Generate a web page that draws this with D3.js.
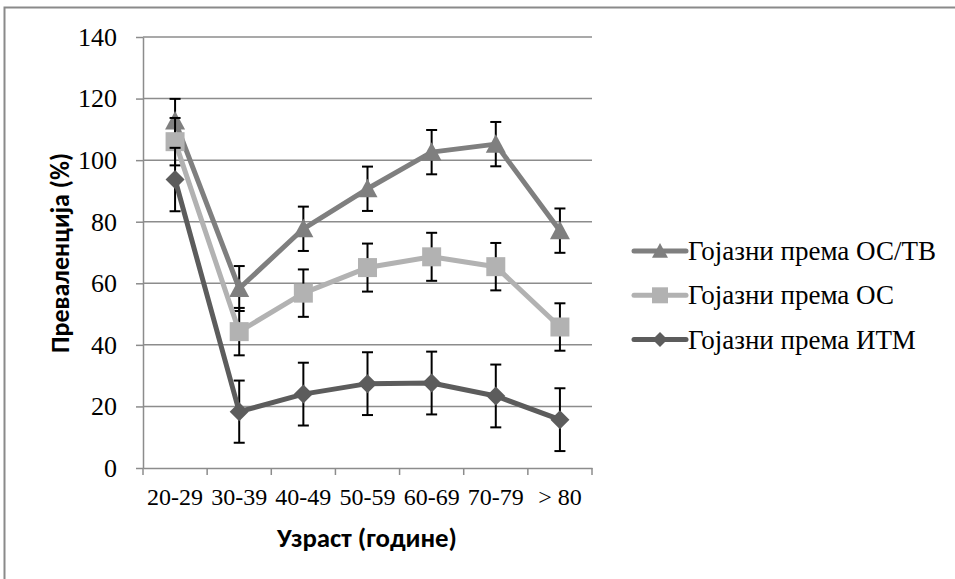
<!DOCTYPE html>
<html>
<head>
<meta charset="utf-8">
<script src="https://cdn.jsdelivr.net/npm/d3@7/dist/d3.min.js"></script>
<style>
  html, body { margin: 0; padding: 0; background: #fff; }
  svg { display: block; }
  .serif { font-family: "Liberation Serif", "Times New Roman", serif; }
  .title { font-family: Carlito, Calibri, "Open Sans", sans-serif; font-weight: bold; }
</style>
</head>
<body>
<script>
// Age groups and prevalence (%) with error-bar half widths, per obesity criterion
const categories = ["20-29", "30-39", "40-49", "50-59", "60-69", "70-79", "> 80"];
const yTicks = [0, 20, 40, 60, 80, 100, 120, 140];

const seriesNames = ["Гојазни према ОС/ТВ", "Гојазни према ОС", "Гојазни према ИТМ"];
const valuesOSTV = [112.7, 58.3, 77.7, 90.7, 102.6, 105.2, 77.1];
const errorsOSTV = [7.2, 7.3, 7.2, 7.2, 7.2, 7.2, 7.2];
const valuesOS   = [106.0, 44.3, 56.8, 65.1, 68.6, 65.4, 45.8];
const errorsOS   = [7.7, 7.7, 7.7, 7.8, 7.8, 7.7, 7.7];
const valuesITM  = [93.7, 18.3, 24.0, 27.4, 27.6, 23.4, 15.7];
const errorsITM  = [10.3, 10.1, 10.2, 10.2, 10.2, 10.2, 10.2];

const W = 955, H = 579;
const svg = d3.select("body").append("svg").attr("width", W).attr("height", H);

// chart area frame
svg.append("rect")
  .attr("x", 4.5).attr("y", 7.5).attr("width", W + 10).attr("height", H + 10)
  .attr("fill", "none").attr("stroke", "#8a8a8a").attr("stroke-width", 2);

const plot = { left: 143, right: 592, top: 37, bottom: 468 };

const x = d3.scaleBand().domain(categories).range([plot.left, plot.right]);
const y = d3.scaleLinear().domain([0, 140]).range([plot.bottom, plot.top]);

const gridColor = "#8c8c8c";

// horizontal gridlines
svg.append("g")
  .selectAll("line")
  .data(yTicks.filter(d => d > 0))
  .join("line")
  .attr("x1", plot.left).attr("x2", plot.right)
  .attr("y1", d => y(d)).attr("y2", d => y(d))
  .attr("stroke", gridColor).attr("stroke-width", 1.5);

// y axis
const yAxis = svg.append("g")
  .attr("transform", `translate(${plot.left},0)`)
  .call(d3.axisLeft(y).tickValues(yTicks).tickSize(7).tickPadding(19).tickSizeOuter(0))
  .attr("font-family", null).attr("font-size", null);
yAxis.select(".domain").attr("stroke", gridColor).attr("stroke-width", 1.5);
yAxis.selectAll(".tick line").attr("stroke", gridColor).attr("stroke-width", 1.5);
yAxis.selectAll(".tick text")
  .attr("class", "serif").style("font-size", "26px").attr("fill", "#000");

// x axis with tick marks at the category boundaries
const xAxis = svg.append("g")
  .attr("transform", `translate(0,${plot.bottom})`)
  .call(d3.axisBottom(x).tickSize(0).tickPadding(20).tickSizeOuter(0))
  .attr("font-family", null).attr("font-size", null);
xAxis.select(".domain").attr("stroke", gridColor).attr("stroke-width", 1.5);
xAxis.selectAll(".tick text")
  .attr("class", "serif").style("font-size", "24px").attr("fill", "#000");
const bounds = categories.map(c => x(c)).concat([x(categories[categories.length - 1]) + x.bandwidth()]);
xAxis.selectAll(".bound")
  .data(bounds)
  .join("line")
  .attr("class", "bound")
  .attr("x1", d => d).attr("x2", d => d)
  .attr("y1", 0).attr("y2", 7)
  .attr("stroke", gridColor).attr("stroke-width", 1.5);

// fit a bold title to a given width
function fitText(sel, width) {
  const len = sel.node().getComputedTextLength();
  const fs = parseFloat(sel.style("font-size"));
  sel.style("font-size", (fs * width / len).toFixed(2) + "px");
}

const yTitle = svg.append("text")
  .attr("class", "title")
  .attr("transform", `translate(60,253) rotate(-90)`)
  .attr("text-anchor", "middle").attr("dominant-baseline", "central")
  .style("font-size", "22px")
  .text("Преваленција (%)");
fitText(yTitle, 200);

const xTitle = svg.append("text")
  .attr("class", "title")
  .attr("x", 367).attr("y", 537)
  .attr("text-anchor", "middle").attr("dominant-baseline", "central")
  .style("font-size", "22px")
  .text("Узраст (године)");
fitText(xTitle, 180);

const series = [
  { name: seriesNames[0], values: valuesOSTV, errors: errorsOSTV, color: "#7f7f7f", shape: "triangle" },
  { name: seriesNames[1], values: valuesOS,   errors: errorsOS,   color: "#b2b2b2", shape: "square" },
  { name: seriesNames[2], values: valuesITM,  errors: errorsITM,  color: "#5c5c5c", shape: "diamond" }
];

function markerPath(shape, size) {
  const h = size / 2;
  if (shape === "triangle") return `M0,${-h}L${h},${h * 0.85}L${-h},${h * 0.85}Z`;
  if (shape === "square") return `M${-h},${-h}H${h}V${h}H${-h}Z`;
  return `M0,${-h}L${h},0L0,${h}L${-h},0Z`;
}
const markerSize = { triangle: 20, square: 19, diamond: 19 };

const cx = c => x(c) + x.bandwidth() / 2;
const line = d3.line().x(d => cx(d.cat)).y(d => y(d.v));
const capW = 5.5;

series.forEach(s => {
  const pts = categories.map((c, i) => ({ cat: c, v: s.values[i], e: s.errors[i] }));
  const g = svg.append("g");

  // error bars
  const eb = g.append("g").attr("stroke", "#000").attr("stroke-width", 2);
  pts.forEach(p => {
    const x0 = cx(p.cat), yt = y(p.v + p.e), yb = y(p.v - p.e);
    eb.append("line").attr("x1", x0).attr("x2", x0).attr("y1", yt).attr("y2", yb);
    eb.append("line").attr("x1", x0 - capW).attr("x2", x0 + capW).attr("y1", yt).attr("y2", yt);
    eb.append("line").attr("x1", x0 - capW).attr("x2", x0 + capW).attr("y1", yb).attr("y2", yb);
  });

  g.append("path")
    .datum(pts)
    .attr("d", line)
    .attr("fill", "none").attr("stroke", s.color)
    .attr("stroke-width", 5).attr("stroke-linejoin", "round").attr("stroke-linecap", "round");

  g.selectAll(".m")
    .data(pts)
    .join("path")
    .attr("class", "m")
    .attr("transform", d => `translate(${cx(d.cat)},${y(d.v)})`)
    .attr("d", markerPath(s.shape, markerSize[s.shape]))
    .attr("fill", s.color);
});

// legend
const legend = svg.append("g").attr("transform", "translate(632,251)");
const rowGap = 44.3;
series.forEach((s, i) => {
  const r = legend.append("g").attr("transform", `translate(0,${i * rowGap})`);
  r.append("line").attr("x1", 2).attr("x2", 54).attr("y1", 0).attr("y2", 0)
    .attr("stroke", s.color).attr("stroke-width", 5).attr("stroke-linecap", "round");
  r.append("path").attr("transform", "translate(28,0)")
    .attr("d", markerPath(s.shape, s.shape === "diamond" ? 15 : 16)).attr("fill", s.color);
  r.append("text").attr("class", "serif").attr("x", 56).attr("y", 0).attr("dominant-baseline", "central")
    .style("font-size", "27px").attr("fill", "#000")
    .text(s.name);
});
</script>
</body>
</html>
